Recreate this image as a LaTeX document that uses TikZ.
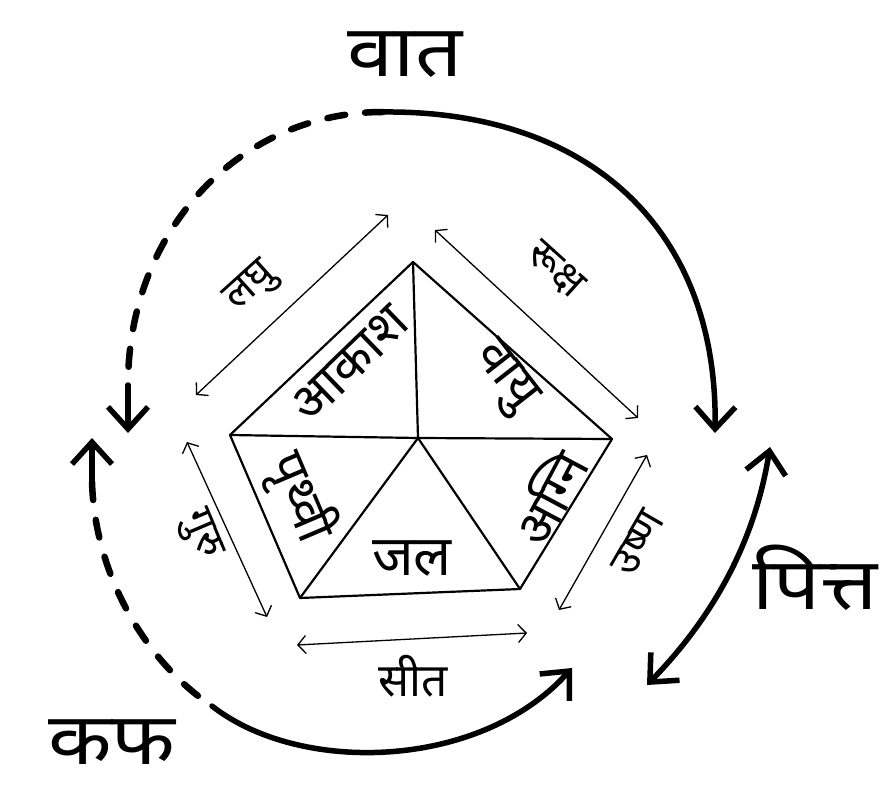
\documentclass[tikz,border=0pt]{standalone}
\usepackage{fontspec}
\newfontfamily\dev[Script=Devanagari]{Noto Sans}
\usetikzlibrary{arrows.meta}
\begin{document}
\begin{tikzpicture}[x=1pt,y=-1pt,
  big/.style={font=\dev\fontsize{72}{80}\selectfont, inner sep=0pt, xscale=1.15},
  elem/.style={font=\dev\fontsize{52}{60}\selectfont, inner sep=0pt},
  qual/.style={font=\dev\fontsize{42}{50}\selectfont, inner sep=0pt},
  pentaline/.style={line width=2.2pt, line join=round},
  thinarrow/.style={line width=1.3pt, {Straight Barb[length=8pt,width=18pt]}-{Straight Barb[length=8pt,width=18pt]}},
  thickline/.style={line width=5.5pt, line cap=round},
  bighead/.style={-{Straight Barb[length=22pt,width=40pt]}},
  bothheads/.style={{Straight Barb[length=22pt,width=40pt]}-{Straight Barb[length=22pt,width=40pt]}},
  dashedarc/.style={line width=6.5pt, line cap=round, dash pattern=on 18pt off 20pt},
]
\useasboundingbox (0,0) rectangle (890,810);

% pentagon
\coordinate (T) at (413,262);
\coordinate (R) at (612,439);
\coordinate (BR) at (520,589);
\coordinate (BL) at (300,598);
\coordinate (L) at (230,435);
\coordinate (C) at (418,438);
\draw[pentaline] (T) -- (R) -- (BR) -- (BL) -- (L) -- cycle;
\draw[pentaline] (T) -- (C);
\draw[pentaline] (L) -- (C) -- (R);
\draw[pentaline] (BL) -- (C) -- (BR);

% element labels
\node[elem, rotate=44] (akash) at (350,364) {आकाश};
\node[elem, rotate=-52] (vayu) at (503,378) {वायु};
\node[elem, rotate=62] (agni) at (548,497) {अग्नि};
\node[elem, font=\dev\fontsize{56}{64}\selectfont] (jal) at (412,558) {जल};
\node[elem, rotate=-67] (prithvi) at (300,497) {पृथ्वी};

% quality arrows
\coordinate (la) at (196,395); \coordinate (lb) at (388,215);
\coordinate (ra) at (435,230); \coordinate (rb) at (638,418);
\coordinate (ua) at (559,610); \coordinate (ub) at (647,455);
\coordinate (sa) at (297,645); \coordinate (sb) at (527,633);
\coordinate (ga) at (187,442); \coordinate (gb) at (267,617);
\draw[thinarrow] (la) -- (lb);
\draw[thinarrow] (ra) -- (rb);
\draw[thinarrow] (ua) -- (ub);
\draw[thinarrow] (sa) -- (sb);
\draw[thinarrow] (ga) -- (gb);

\node[qual, rotate=42] (laghu) at (252,288) {लघु};
\node[qual, rotate=-42] (ruksha) at (555,270) {रूक्ष};
\node[qual, rotate=60] (ushna) at (638,543) {उष्ण};
\node[qual, font=\dev\fontsize{46}{54}\selectfont] (sheet) at (413,676) {सीत};
\node[qual, rotate=-67] (guru) at (200,535) {गुरु};

% dosha labels
\node[big] (vata) at (405,55) {वात};
\node[big] (pitta) at (815,578) {पित्त};
\node[big] (kapha) at (112,742) {कफ};

% vata arcs
\coordinate (vtop) at (383,112);
\coordinate (vl) at (128,385);
\coordinate (vltip) at (128,433);
\coordinate (vrtip) at (715,433);
\draw[dashedarc] (vtop) .. controls (240,112) and (128,230) .. (vl);
\draw[thickline, bighead] (vl) -- (vltip);
\draw[thickline, bighead] (vtop) .. controls (590,110) and (718,230) .. (vrtip);

% pitta arc
\coordinate (pa) at (770,447);
\coordinate (pb) at (647,685);
\draw[thickline, bothheads] (pa) .. controls (755,540) and (715,615) .. (pb);

% kapha arc
\coordinate (ktip) at (92,438);
\coordinate (ks) at (92,482);
\coordinate (kj) at (212,706);
\coordinate (ke) at (572,668);
\draw[thickline, bighead] (ks) -- (ktip);
\draw[dashedarc] (ks) .. controls (95,580) and (150,665) .. (kj);
\draw[thickline, bighead] (kj) .. controls (300,775) and (480,770) .. (ke);
\end{tikzpicture}
\end{document}
